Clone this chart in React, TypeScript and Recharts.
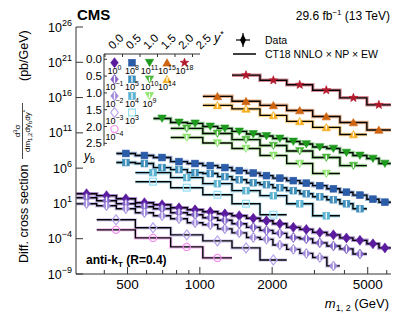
import React from "react";
import { ComposedChart, Line, Scatter, XAxis, YAxis } from "recharts";

// dijet mass bin edges (GeV), finest binning
const massEdges = [306, 372, 449, 539, 641, 756, 887, 1029, 1187, 1361, 1565, 1780, 2015, 2300, 2610, 2950, 3380, 3830, 4340, 4960, 5570, 6240];

// merged bins used in the outer rapidity bins
const edgesY0b15 = [372, 539, 756, 1029, 1361, 1780, 2300];
const edgesY0b20 = [372, 539, 756, 1029, 1361];
const edgesY05b10 = [539, 756, 1029, 1361, 1780, 2300, 2950, 3830];
const edgesY05b15 = [539, 756, 1029, 1361, 1780, 2300];
const edgesY10b05 = [756, 1029, 1361, 1780, 2300, 2950, 3830, 4960];
const edgesY10b10 = [756, 1029, 1361, 1780, 2300, 2950, 3830];
const edgesY15b00 = [1029, 1361, 1780, 2300, 2950, 3830, 4960, 6240];
const edgesY15b05 = [1029, 1361, 1780, 2300, 2950, 3830, 4960];
const edgesY20b00 = [1361, 1780, 2300, 2950, 3830, 4960, 6240];

// cross section x scale factor (pb/GeV), one value per bin
const xsY0b00 = [240, 126, 47, 12.6, 6.6, 2.5, 1.26, 0.66, 0.34, 0.18, 0.078, 0.035, 0.013, 0.0041, 0.0021, 7.9e-4, 3.5e-4, 1.3e-4, 5.9e-5, 1.9e-5, 5.0e-6];
const xsY0b05 = [65, 24, 9.1, 3.4, 1.8, 0.48, 0.25, 0.093, 0.041, 0.013, 0.0041, 0.0015, 5.8e-4, 1.5e-4, 9.5e-5, 2.6e-5, 9.5e-6, 3.6e-6, 6.9e-7];
const xsY0b10 = [9.1, 4.7, 1.8, 0.48, 0.18, 0.066, 0.018, 0.0093, 0.0025, 6.8e-4, 1.5e-4, 8.1e-5, 1.3e-5, 3.1e-6, 8.3e-7, 2.2e-7, 1.4e-8];
const xsY0b15 = [0.048, 0.0035, 3.5e-4, 4.9e-5, 5.0e-6, 9.8e-8];
const xsY0b20 = [1.8e-3, 1.3e-4, 6.9e-6, 1.9e-7];
const xsY05b00 = [1.2e8, 6.2e7, 3.2e7, 8.5e6, 4.5e6, 2.3e6, 1.2e6, 4.5e5, 2.0e5, 8.7e4, 3.8e4, 1.7e4, 7.4e3, 3.3e3, 1.2e3, 390, 150, 40, 15];
const xsY05b05 = [6.2e6, 4.5e6, 1.2e6, 6.2e5, 2.3e5, 1.7e5, 6.3e4, 2.3e4, 8.7e3, 4.6e3, 1.7e3, 650, 240, 89, 34, 9.1, 1.8];
const xsY05b10 = [2.3e5, 4.6e4, 6.3e3, 650, 126, 9.1, 0.18];
const xsY05b15 = [1.2e4, 1.7e3, 170, 9.1, 0.25];
const xsY10b00 = [1.1e13, 3.0e12, 2.2e12, 8.1e11, 4.3e11, 1.6e11, 6.9e10, 3.6e10, 1.6e10, 6.0e9, 2.6e9, 9.8e8, 6.0e8, 1.6e8, 6.2e7, 2.3e7, 4.5e6];
const xsY10b05 = [4.3e11, 8.1e10, 1.1e10, 1.6e9, 2.7e8, 3.2e7, 2.3e6];
const xsY10b10 = [2.2e10, 3.6e9, 6.0e8, 6.2e7, 4.5e6, 1.7e5];
const xsY15b00 = [1.5e16, 3.0e15, 7.9e14, 1.5e14, 2.1e13, 3.0e12, 2.6e11];
const xsY15b05 = [7.9e14, 2.5e14, 3.0e13, 4.2e12, 5.9e11, 5.9e10];
const xsY20b00 = [1.5e19, 2.8e18, 6.5e17, 1.1e17, 9.1e15, 9.3e14];

// inset labels
const rapidityLabels = ["0.0", "0.5", "1.0", "1.5", "2.0", "2.5"];
const scaleExp = [
  [0, 8, 11, 15, 18],
  [-1, 5, 10, 14],
  [-2, 4, 9],
  [-3, 3],
  [-4],
];

const yTicks = [1e-9, 1e-4, 1e1, 1e6, 1e11, 1e16, 1e21, 1e26];
const xTicks = [400, 500, 600, 700, 800, 900, 1000, 2000, 3000, 4000, 5000, 6000];
const xMajor = [500, 1000, 2000, 5000];

const FONT = "'Liberation Sans', Arial, Helvetica, sans-serif";
const LEFT = 76;
const RIGHT = 391;
const TOP = 27;
const BOTTOM = 274;

type Kind = "diamond" | "square" | "triDown" | "triUp" | "star" | "circle";
type Fill = "full" | "half" | "open";

const series: { id: string; edges: number[]; xs: number[]; row: number; col: number; kind: Kind; fill: Fill; color: string }[] = [
  { id: "y0b00", edges: massEdges, xs: xsY0b00, row: 0, col: 0, kind: "diamond", fill: "full", color: "#5b1b9f" },
  { id: "y0b05", edges: massEdges.slice(0, 20), xs: xsY0b05, row: 1, col: 0, kind: "diamond", fill: "half", color: "#8366c8" },
  { id: "y0b10", edges: massEdges.slice(0, 18), xs: xsY0b10, row: 2, col: 0, kind: "diamond", fill: "half", color: "#a18bdb" },
  { id: "y0b15", edges: edgesY0b15, xs: xsY0b15, row: 3, col: 0, kind: "diamond", fill: "open", color: "#b8a5ea" },
  { id: "y0b20", edges: edgesY0b20, xs: xsY0b20, row: 4, col: 0, kind: "circle", fill: "open", color: "#f08fec" },
  { id: "y05b00", edges: massEdges.slice(2), xs: xsY05b00, row: 0, col: 1, kind: "square", fill: "full", color: "#2b5ca8" },
  { id: "y05b05", edges: massEdges.slice(2, 20), xs: xsY05b05, row: 1, col: 1, kind: "square", fill: "half", color: "#3e8fbc" },
  { id: "y05b10", edges: edgesY05b10, xs: xsY05b10, row: 2, col: 1, kind: "square", fill: "half", color: "#5cb3d2" },
  { id: "y05b15", edges: edgesY05b15, xs: xsY05b15, row: 3, col: 1, kind: "square", fill: "open", color: "#96def4" },
  { id: "y10b00", edges: massEdges.slice(4), xs: xsY10b00, row: 0, col: 2, kind: "triDown", fill: "full", color: "#1d991d" },
  { id: "y10b05", edges: edgesY10b05, xs: xsY10b05, row: 1, col: 2, kind: "triDown", fill: "half", color: "#4bb43a" },
  { id: "y10b10", edges: edgesY10b10, xs: xsY10b10, row: 2, col: 2, kind: "triDown", fill: "half", color: "#8fe46f" },
  { id: "y15b00", edges: edgesY15b00, xs: xsY15b00, row: 0, col: 3, kind: "triUp", fill: "full", color: "#cf6410" },
  { id: "y15b05", edges: edgesY15b05, xs: xsY15b05, row: 1, col: 3, kind: "triUp", fill: "half", color: "#f6ad1c" },
  { id: "y20b00", edges: edgesY20b00, xs: xsY20b00, row: 0, col: 4, kind: "star", fill: "full", color: "#b2182b" },
];

function stepData(edges: number[], xs: number[]) {
  return edges.map((m, i) => ({ m, v: xs[Math.min(i, xs.length - 1)] }));
}

function pointData(edges: number[], xs: number[]) {
  return xs.map((v, i) => ({ m: Math.sqrt(edges[i] * edges[i + 1]), v }));
}

function Marker({ kind, fill, color, cx, cy }: { kind: Kind; fill: Fill; color: string; cx: number; cy: number }) {
  const paint =
    fill === "open"
      ? { fill: "none", stroke: color, strokeWidth: 1.2 }
      : { fill: color, stroke: color, strokeWidth: 0.6 };
  let shape: React.ReactNode = null;
  let h = 3;
  if (kind === "diamond") {
    shape = <polygon points={`${cx},${cy - 5} ${cx + 3.8},${cy} ${cx},${cy + 5} ${cx - 3.8},${cy}`} {...paint} />;
    h = 3.5;
  } else if (kind === "square") {
    shape = <rect x={cx - 3.4} y={cy - 3.4} width={6.8} height={6.8} {...paint} />;
  } else if (kind === "triDown") {
    shape = <polygon points={`${cx - 4.2},${cy - 3.4} ${cx + 4.2},${cy - 3.4} ${cx},${cy + 3.9}`} {...paint} />;
    h = 2.2;
  } else if (kind === "triUp") {
    shape = <polygon points={`${cx - 4.2},${cy + 3.4} ${cx + 4.2},${cy + 3.4} ${cx},${cy - 3.9}`} {...paint} />;
    h = 2.2;
  } else if (kind === "star") {
    const pts: string[] = [];
    for (let k = 0; k < 10; k++) {
      const r = k % 2 === 0 ? 4.6 : 1.9;
      const a = -Math.PI / 2 + (k * Math.PI) / 5;
      pts.push(`${cx + r * Math.cos(a)},${cy + r * Math.sin(a)}`);
    }
    shape = <polygon points={pts.join(" ")} {...paint} />;
  } else {
    shape = <circle cx={cx} cy={cy} r={3.6} {...paint} />;
  }
  return (
    <g>
      {shape}
      {fill === "half" && <line x1={cx} x2={cx} y1={cy - h} y2={cy + h} stroke="#fff" strokeWidth={1.3} />}
    </g>
  );
}

const sup = (e: number) => (e < 0 ? "\u2212" + Math.abs(e) : String(e));

const YTickLeft = (props: any) => {
  const { y, payload } = props;
  const e = Math.round(Math.log10(payload.value));
  return (
    <g>
      <line x1={LEFT} x2={LEFT + 7} y1={y} y2={y} stroke="#333" />
      <text x={72} y={y + 4.5} textAnchor="end" fontSize={12.5} fontFamily={FONT} fill="#000">
        10<tspan dy={-6} fontSize={9}>{sup(e)}</tspan>
      </text>
    </g>
  );
};

const YTickRight = (props: any) => (
  <line x1={RIGHT} x2={RIGHT - 7} y1={props.y} y2={props.y} stroke="#333" />
);

const XTickBottom = (props: any) => {
  const { x, payload } = props;
  const major = xMajor.includes(payload.value);
  return (
    <g>
      <line x1={x} x2={x} y1={BOTTOM} y2={BOTTOM - (major ? 7 : 4)} stroke="#333" />
      {major && (
        <text x={x} y={289} textAnchor="middle" fontSize={13.5} fontFamily={FONT} fill="#000">
          {payload.value}
        </text>
      )}
    </g>
  );
};

const XTickTop = (props: any) => {
  const { x, payload } = props;
  const major = xMajor.includes(payload.value);
  return <line x1={x} x2={x} y1={TOP} y2={TOP + (major ? 7 : 4)} stroke="#333" />;
};

function Inset() {
  const x0 = 105;
  const dx = 17.5;
  const rowY = (r: number) => 62.7 + 16.6 * r;
  return (
    <g fontFamily={FONT}>
      <line x1={104} x2={200} y1={54} y2={54} stroke="#333" />
      <line x1={104} x2={104} y1={54} y2={146} stroke="#333" />
      {rapidityLabels.map((t, k) => (
        <g key={"c" + t}>
          <line x1={x0 + dx * k} x2={x0 + dx * k} y1={54} y2={57} stroke="#333" />
          <text transform={`translate(${x0 + 8 + dx * k},50) rotate(-45)`} fontSize={11.5}>
            {t}
          </text>
        </g>
      ))}
      <text x={214} y={42} fontSize={12.5} fontStyle="italic">
        y<tspan dy={-5} fontSize={9} fontStyle="normal">*</tspan>
      </text>
      {rapidityLabels.map((t, k) => (
        <g key={"r" + t}>
          <line x1={104} x2={107} y1={59.3 + 16.8 * k} y2={59.3 + 16.8 * k} stroke="#333" />
          <text x={102} y={63.4 + 16.8 * k} textAnchor="end" fontSize={11.5}>
            {t}
          </text>
        </g>
      ))}
      <text x={84} y={160} fontSize={12} fontStyle="italic">
        y<tspan dy={3} fontSize={8.5} fontStyle="normal">b</tspan>
      </text>
      {series.map((s) => {
        const cx = 114.5 + dx * s.col;
        const cy = rowY(s.row);
        return (
          <g key={"i" + s.id}>
            <Marker kind={s.kind} fill={s.fill} color={s.color} cx={cx} cy={cy} />
            <text x={cx} y={cy + 11} textAnchor="middle" fontSize={9}>
              10<tspan dy={-4} fontSize={7}>{sup(scaleExp[s.row][s.col])}</tspan>
            </text>
          </g>
        );
      })}
    </g>
  );
}

function Overlay() {
  return (
    <svg width={407} height={315} style={{ position: "absolute", left: 0, top: 0, pointerEvents: "none" }}>
      <g fontFamily={FONT} fill="#000">
        <text x={77} y={20} fontSize={15} fontWeight="bold">CMS</text>
        <text x={390} y={20} fontSize={12} textAnchor="end">
          29.6 fb<tspan dy={-5} fontSize={8}>{"\u22121"}</tspan>
          <tspan dy={5}> (13 TeV)</tspan>
        </text>
        <polygon points="243,34 246,40 243,46 240,40" fill="#000" />
        <line x1={236} x2={250} y1={40} y2={40} stroke="#000" strokeWidth={1.2} />
        <line x1={243} x2={243} y1={33} y2={47} stroke="#000" strokeWidth={1.2} />
        <text x={265} y={44} fontSize={10.5}>Data</text>
        <line x1={233} x2={256} y1={54} y2={54} stroke="#000" strokeWidth={1.5} />
        <text x={265} y={57.5} fontSize={10.5}>CT18 NNLO {"\u00d7"} NP {"\u00d7"} EW</text>
        <text x={86} y={264} fontSize={12} fontWeight="bold">
          anti-k<tspan dy={2.5} fontSize={8}>T</tspan>
          <tspan dy={-2.5}> (R=0.4)</tspan>
        </text>
        <text x={389} y={308} fontSize={13} textAnchor="end">
          <tspan fontStyle="italic">m</tspan>
          <tspan dy={3} fontSize={9}>1, 2</tspan>
          <tspan dy={-3}> (GeV)</tspan>
        </text>
        <text transform="translate(28,263) rotate(-90)" fontSize={12.5}>Diff. cross section</text>
        <text transform="translate(20,131) rotate(-90)" fontSize={8} textAnchor="middle">
          d<tspan dy={-3} fontSize={6}>3</tspan>
          <tspan dy={3}>{"\u03c3"}</tspan>
        </text>
        <line x1={22.5} x2={22.5} y1={103} y2={159} stroke="#000" strokeWidth={0.7} />
        <text transform="translate(30,131) rotate(-90)" fontSize={8} textAnchor="middle">
          dm<tspan dy={2} fontSize={6}>1,2</tspan>
          <tspan dy={-2}>dy</tspan>
          <tspan dy={2} fontSize={6}>b</tspan>
          <tspan dy={-2}>dy</tspan>
          <tspan dy={-3} fontSize={6}>*</tspan>
        </text>
        <text transform="translate(28,81) rotate(-90)" fontSize={12.5}>(pb/GeV)</text>
        <Inset />
      </g>
    </svg>
  );
}

export default function App() {
  return (
    <div style={{ position: "absolute", left: 0, top: 0, width: 407, height: 315, background: "#fff" }}>
      <ComposedChart width={407} height={315} margin={{ top: TOP, right: 407 - RIGHT, bottom: 0, left: 0 }}>
        <XAxis
          dataKey="m"
          type="number"
          scale="log"
          domain={[305, 6250]}
          allowDataOverflow
          ticks={xTicks}
          interval={0}
          tick={XTickBottom}
          tickLine={false}
          axisLine={{ stroke: "#333" }}
          height={315 - BOTTOM}
        />
        <XAxis
          xAxisId="top"
          orientation="top"
          dataKey="m"
          type="number"
          scale="log"
          domain={[305, 6250]}
          allowDataOverflow
          ticks={xTicks}
          interval={0}
          tick={XTickTop}
          tickLine={false}
          axisLine={{ stroke: "#333" }}
          height={0}
        />
        <YAxis
          dataKey="v"
          type="number"
          scale="log"
          domain={[1e-9, 1e26]}
          allowDataOverflow
          ticks={yTicks}
          interval={0}
          tick={YTickLeft}
          tickLine={false}
          axisLine={{ stroke: "#333" }}
          width={LEFT}
        />
        <YAxis
          yAxisId="r"
          orientation="right"
          dataKey="v"
          type="number"
          scale="log"
          domain={[1e-9, 1e26]}
          allowDataOverflow
          ticks={yTicks}
          interval={0}
          tick={YTickRight}
          tickLine={false}
          axisLine={{ stroke: "#333" }}
          width={0}
        />
        {series.map((s) => (
          <Line
            key={"band" + s.id}
            data={stepData(s.edges, s.xs)}
            dataKey="v"
            type="stepAfter"
            stroke={s.color}
            strokeOpacity={0.5}
            strokeWidth={3.5}
            dot={false}
            activeDot={false}
            isAnimationActive={false}
          />
        ))}
        {series.map((s) => (
          <Line
            key={"th" + s.id}
            data={stepData(s.edges, s.xs)}
            dataKey="v"
            type="stepAfter"
            stroke="#000"
            strokeWidth={1.4}
            dot={false}
            activeDot={false}
            isAnimationActive={false}
          />
        ))}
        {series.map((s) => (
          <Scatter
            key={"pt" + s.id}
            data={pointData(s.edges, s.xs)}
            dataKey="v"
            isAnimationActive={false}
            shape={(p: any) => <Marker kind={s.kind} fill={s.fill} color={s.color} cx={p.cx} cy={p.cy} />}
          />
        ))}
      </ComposedChart>
      <Overlay />
    </div>
  );
}
